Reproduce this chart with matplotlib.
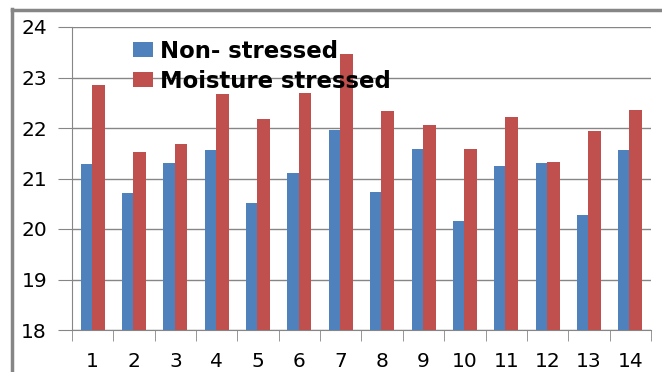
import numpy as np
import matplotlib
matplotlib.use("Agg")
import matplotlib.pyplot as plt
from matplotlib.lines import Line2D

samples = [str(i) for i in range(1, 15)]
non_stressed = [21.28, 20.71, 21.30, 21.56, 20.51, 21.10, 21.96, 20.73, 21.58, 20.15, 21.24, 21.30, 20.27, 21.56]
moisture_stressed = [22.86, 21.52, 21.68, 22.67, 22.18, 22.69, 23.46, 22.33, 22.05, 21.58, 22.22, 21.33, 21.94, 22.35]
yticks = [18, 19, 20, 21, 22, 23, 24]

grey = "#868686"
fig = plt.figure(figsize=(6.62, 3.72), dpi=100)
ax = fig.add_axes([72 / 662, 1 - 330 / 372, 579 / 662, 303 / 372])

x = np.arange(1, 15)
ax.bar(x - 0.02, non_stressed, width=-0.27, align="edge", color="#4F81BD", label="Non- stressed", zorder=3)
ax.bar(x - 0.02, moisture_stressed, width=0.31, align="edge", color="#C0504D", label="Moisture stressed", zorder=3)

ax.set_ylim(18, 24)
ax.set_xlim(0.5, 14.5)
ax.set_yticks(yticks)
ax.set_yticklabels([str(v) for v in yticks], fontsize=14.5)
ax.set_xticks(x)
ax.set_xticklabels(samples, fontsize=14.5)
ax.set_xticks(np.arange(0.5, 15, 1), minor=True)
ax.tick_params(axis="x", which="major", length=0, pad=16)
ax.tick_params(axis="x", which="minor", length=8, color=grey)
ax.tick_params(axis="y", length=10, color=grey, pad=8)
ax.grid(axis="y", color=grey, linewidth=1, zorder=0)
for s in ["top", "right"]:
    ax.spines[s].set_visible(False)
for s in ["left", "bottom"]:
    ax.spines[s].set_color(grey)

leg = ax.legend(loc="upper left", bbox_to_anchor=(0.105, 0.958), frameon=False,
                prop={"weight": "bold", "size": 16.4}, handlelength=0.88, handleheight=0.6,
                handletextpad=0.3, labelspacing=0.3, borderaxespad=0, borderpad=0)

# outer frame lines at the left and top
fig.add_artist(Line2D([11.5 / 662, 11.5 / 662], [0, 1 - 9 / 372], color=grey, linewidth=2.5))
fig.add_artist(Line2D([11.5 / 662, 1], [1 - 9.5 / 372, 1 - 9.5 / 372], color=grey, linewidth=2.5))

fig.savefig("out.png", dpi=100)
